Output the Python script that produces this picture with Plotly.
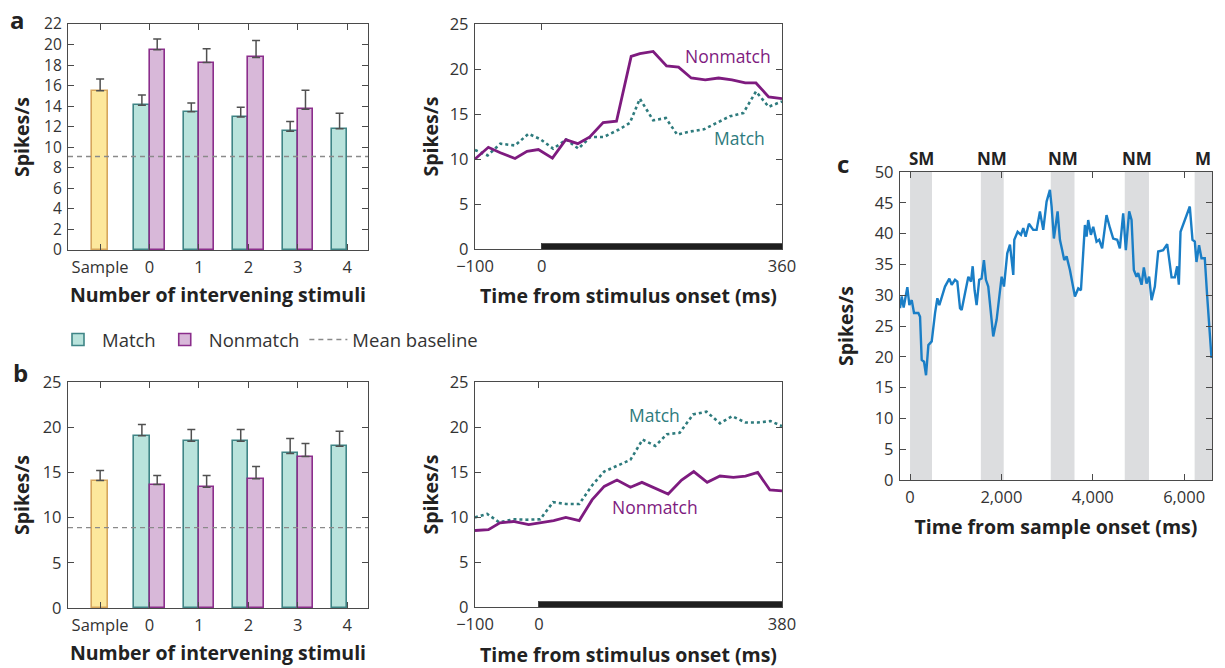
import plotly.graph_objects as go

# the page body has an 8px margin; positions below are in reference-page pixels
OX, OY = 8, 8
W, H = 1217, 660

# ---------------- data ----------------
bar_labels = ["Sample", "0", "1", "2", "3", "4"]
bar_pos = [0, 1, 2, 3, 4, 5]

# panel a (bars)
a_sample = [15.5]
a_sample_err = [1.15]
a_match = [14.1, 13.45, 12.95, 11.55, 11.8]
a_match_err = [1.0, 0.85, 0.95, 0.95, 1.5]
a_nonmatch = [19.5, 18.25, 18.75, 13.7]
a_nonmatch_err = [1.05, 1.35, 1.65, 1.85]
a_baseline = 9.1

# panel b (bars)
b_sample = [14.1]
b_sample_err = [1.1]
b_match = [19.05, 18.45, 18.45, 17.1, 17.9]
b_match_err = [1.25, 1.3, 1.3, 1.65, 1.65]
b_nonmatch = [13.65, 13.35, 14.3, 16.75]
b_nonmatch_err = [1.0, 1.3, 1.35, 1.45]
b_baseline = 8.9

# panel a (time course)
a_t_non = [-100, -80, -62, -40, -22, -5, 16, 36, 54, 72, 92, 112, 134, 147, 167, 187, 205, 224, 245, 265, 285, 305, 321, 340, 360]
a_r_non = [10.0, 11.3, 10.7, 10.05, 10.85, 11.05, 10.1, 12.15, 11.7, 12.45, 14.05, 14.2, 21.4, 21.7, 21.95, 20.35, 20.2, 19.0, 18.8, 19.0, 18.8, 18.45, 18.45, 16.9, 16.7]
a_t_match = [-100, -81, -62, -40, -20, -2, 17, 37, 55, 73, 93, 115, 132, 147, 167, 186, 203, 222, 243, 262, 282, 302, 321, 340, 360]
a_r_match = [11.0, 10.4, 11.7, 11.5, 12.8, 12.2, 11.15, 12.15, 11.15, 12.45, 12.45, 13.25, 14.0, 16.7, 14.3, 14.55, 12.7, 13.05, 13.3, 14.0, 14.75, 15.1, 17.5, 15.8, 16.4]

# panel b (time course)
b_t_non = [-100, -79, -61, -40, -16, 2, 23, 42, 63, 83, 102, 122, 143, 161, 182, 202, 223, 242, 263, 283, 304, 323, 342, 361, 380]
b_r_non = [8.5, 8.6, 9.35, 9.5, 9.15, 9.35, 9.6, 9.95, 9.6, 11.9, 13.4, 14.1, 13.3, 13.85, 13.2, 12.55, 14.1, 15.05, 13.85, 14.55, 14.4, 14.55, 14.95, 13.0, 12.9]
b_t_match = [-100, -81, -62, -40, -19, 2, 22, 42, 63, 83, 102, 122, 143, 162, 182, 200, 220, 241, 262, 283, 302, 323, 342, 362, 380]
b_r_match = [9.95, 10.35, 9.4, 9.75, 9.7, 9.75, 11.65, 11.45, 11.45, 13.5, 15.05, 15.7, 16.35, 18.6, 17.9, 19.2, 19.35, 21.4, 21.7, 20.4, 21.2, 20.5, 20.5, 20.65, 20.1]

# panel c (single trial)
c_time = [-219, -182, -140, -59, -15, 37, 87, 182, 219, 255, 306, 350, 401, 474, 547, 598, 641, 693, 765, 860,
          912, 984, 1035, 1094, 1130, 1203, 1276, 1334, 1371, 1413, 1457, 1514, 1566, 1617, 1661, 1712, 1821, 1895, 1968, 2005,
          2056, 2128, 2187, 2260, 2282, 2355, 2428, 2479, 2530, 2602, 2697, 2770, 2843, 2916, 2989, 3062, 3099, 3149, 3230, 3281,
          3331, 3375, 3427, 3500, 3609, 3682, 3741, 3828, 3865, 3900, 3959, 4010, 4083, 4140, 4205, 4301, 4373, 4447, 4535, 4593,
          4666, 4724, 4797, 4849, 4899, 4958, 4994, 5068, 5118, 5177, 5234, 5287, 5359, 5432, 5541, 5629, 5725, 5797, 5847, 5884,
          5921, 5993, 6037, 6124, 6183, 6234, 6270, 6327, 6380, 6452, 6503, 6599]
c_rate = [27.9, 29.8, 28.0, 31.3, 28.4, 29.2, 27.1, 27.1, 26.5, 19.5, 19.2, 17.0, 21.9, 22.5, 27.1, 29.5, 28.4, 29.8, 31.4, 32.7,
          31.7, 32.5, 32.2, 27.9, 27.6, 30.3, 33.0, 32.2, 34.7, 30.8, 28.4, 32.5, 32.7, 35.7, 32.5, 31.4, 23.3, 26.0, 30.3, 33.0,
          31.4, 36.8, 38.2, 33.3, 39.0, 40.3, 39.8, 40.9, 39.5, 41.6, 40.6, 40.6, 43.6, 40.6, 45.2, 47.1, 44.4, 39.2, 43.6, 39.0,
          37.3, 35.7, 36.3, 34.1, 29.8, 31.1, 30.8, 41.4, 39.5, 42.2, 39.8, 41.1, 38.7, 39.0, 37.6, 43.0, 41.0, 39.2, 39.0, 37.6,
          43.3, 37.3, 43.6, 42.2, 34.1, 33.0, 33.6, 31.7, 34.5, 31.9, 33.0, 29.2, 31.4, 37.1, 37.3, 38.3, 32.9, 32.9, 34.7, 31.7,
          40.3, 41.7, 42.5, 44.4, 39.0, 38.7, 35.4, 38.1, 36.0, 36.0, 30.0, 19.8]
c_band_start = [0, 1550, 3080, 4700, 6230]
c_band_end = [480, 2050, 3600, 5230, 6610]
c_band_labels = ["SM", "NM", "NM", "NM", "M"]

# ---------------- style ----------------
FONT = "Open Sans"
TXT = "#333333"
AX = "#4a4a4a"
MATCH_FILL, MATCH_LINE = "#b9e3dc", "#3f8586"
NON_FILL, NON_LINE = "#d8b8d9", "#8b2e8c"
SAMP_FILL, SAMP_LINE = "#fde89c", "#d6a65c"
LINE_NON = "#7e1b7f"
LINE_MATCH = "#2e7b7d"
C_BLUE = "#1a7ec6"
BAND = "#dcdddf"
BW = 0.31
bar_range = [-0.65, 5.42]

fig = go.Figure()


def add_bars(xa, ya, samp, samp_err, match, match_err, non, non_err, base, legend):
    eb = dict(color="#505050", thickness=1.5, width=4)
    fig.add_trace(go.Bar(x=bar_pos[:1], y=samp, width=BW, offset=-BW / 2, name="Sample",
                         marker=dict(color=SAMP_FILL, line=dict(color=SAMP_LINE, width=1.6)),
                         error_y=dict(type="data", array=samp_err, arrayminus=[0] * len(samp), symmetric=False, **eb),
                         xaxis=xa, yaxis=ya, showlegend=False))
    fig.add_trace(go.Bar(x=bar_pos[1:1 + len(match)], y=match, width=BW, offset=-BW, name="Match",
                         marker=dict(color=MATCH_FILL, line=dict(color=MATCH_LINE, width=1.6)),
                         error_y=dict(type="data", array=match_err, arrayminus=[0] * len(match), symmetric=False, **eb),
                         xaxis=xa, yaxis=ya, showlegend=legend, legendgroup="m"))
    fig.add_trace(go.Bar(x=bar_pos[1:1 + len(non)], y=non, width=BW, offset=0, name="Nonmatch",
                         marker=dict(color=NON_FILL, line=dict(color=NON_LINE, width=1.6)),
                         error_y=dict(type="data", array=non_err, arrayminus=[0] * len(non), symmetric=False, **eb),
                         xaxis=xa, yaxis=ya, showlegend=legend, legendgroup="n"))
    fig.add_trace(go.Scatter(x=bar_range, y=[base, base], mode="lines", name="Mean baseline",
                             line=dict(color="#8a8a8a", width=1.3, dash="5px,4px"),
                             xaxis=xa, yaxis=ya, showlegend=legend, hoverinfo="skip"))


add_bars("x", "y", a_sample, a_sample_err, a_match, a_match_err, a_nonmatch, a_nonmatch_err, a_baseline, True)
add_bars("x3", "y3", b_sample, b_sample_err, b_match, b_match_err, b_nonmatch, b_nonmatch_err, b_baseline, False)

# time courses
fig.add_trace(go.Scatter(x=a_t_match, y=a_r_match, mode="lines", line=dict(color=LINE_MATCH, width=2.6, dash="dot"),
                         xaxis="x2", yaxis="y2", showlegend=False))
fig.add_trace(go.Scatter(x=a_t_non, y=a_r_non, mode="lines", line=dict(color=LINE_NON, width=2.8),
                         xaxis="x2", yaxis="y2", showlegend=False))
fig.add_trace(go.Scatter(x=b_t_match, y=b_r_match, mode="lines", line=dict(color=LINE_MATCH, width=2.6, dash="dot"),
                         xaxis="x4", yaxis="y4", showlegend=False))
fig.add_trace(go.Scatter(x=b_t_non, y=b_r_non, mode="lines", line=dict(color=LINE_NON, width=2.8),
                         xaxis="x4", yaxis="y4", showlegend=False))
fig.add_trace(go.Scatter(x=c_time, y=c_rate, mode="lines", line=dict(color=C_BLUE, width=2.4),
                         xaxis="x5", yaxis="y5", showlegend=False))


def xd(l, r):
    return [(l - OX) / W, (r - OX) / W]


def yd(t, b):
    return [1 - (b - OY) / H, 1 - (t - OY) / H]


def px(x):
    return (x - OX) / W


def py(y):
    return 1 - (y - OY) / H


tickfont = dict(family=FONT, size=16.5, color=TXT)
titlefont = dict(family=FONT, size=19.5, color="#222222", weight="bold")
common = dict(showline=True, linecolor=AX, linewidth=1.3, mirror="ticks", ticks="inside", ticklen=6,
              tickcolor=AX, tickwidth=1.3, showgrid=False, zeroline=False, fixedrange=True,
              automargin=False, ticklabelstandoff=2)

fig.update_layout(
    width=W, height=H, autosize=False,
    margin=dict(l=0, r=0, t=0, b=0),
    paper_bgcolor="white", plot_bgcolor="white",
    barmode="overlay", bargap=0,
    font=dict(family=FONT, color=TXT),
    showlegend=True,
    legend=dict(orientation="h", x=px(54), y=py(340), xanchor="left", yanchor="middle",
                font=dict(family=FONT, size=18.5, color=TXT), itemwidth=38, bgcolor="rgba(0,0,0,0)",
                tracegroupgap=0),
    xaxis=dict(domain=xd(68, 368), range=bar_range, tickvals=bar_pos, ticktext=bar_labels, anchor="y", tickfont=tickfont,
               title=dict(text="Number of intervening stimuli", font=titlefont, standoff=11), **common),
    yaxis=dict(domain=yd(24, 250), range=[0, 22], dtick=2, anchor="x", tickfont=dict(tickfont, size=15.5),
               title=dict(text="Spikes/s", font=titlefont, standoff=9), **common),
    xaxis2=dict(domain=xd(475, 782), range=[-100, 360], tickvals=[-100, 0, 360], ticktext=["\u2212100", "0", "360"],
                anchor="y2", tickfont=tickfont,
                title=dict(text="Time from stimulus onset (ms)", font=titlefont, standoff=13), **common),
    yaxis2=dict(domain=yd(24, 249), range=[0, 25], dtick=5, anchor="x2", tickfont=tickfont,
                title=dict(text="Spikes/s", font=titlefont, standoff=5), **common),
    xaxis3=dict(domain=xd(68, 368), range=bar_range, tickvals=bar_pos, ticktext=bar_labels, anchor="y3", tickfont=tickfont,
                title=dict(text="Number of intervening stimuli", font=titlefont, standoff=11), **common),
    yaxis3=dict(domain=yd(382, 608), range=[0, 25], dtick=5, anchor="x3", tickfont=tickfont,
                title=dict(text="Spikes/s", font=titlefont, standoff=8), **common),
    xaxis4=dict(domain=xd(475, 782), range=[-100, 380], tickvals=[-100, 0, 380], ticktext=["\u2212100", "0", "380"],
                anchor="y4", tickfont=tickfont,
                title=dict(text="Time from stimulus onset (ms)", font=titlefont, standoff=15), **common),
    yaxis4=dict(domain=yd(382, 607), range=[0, 25], dtick=5, anchor="x4", tickfont=tickfont,
                title=dict(text="Spikes/s", font=titlefont, standoff=5), **common),
    xaxis5=dict(domain=xd(900, 1212), range=[-220, 6610], tickvals=[0, 2000, 4000, 6000],
                ticktext=["0", "2,000", "4,000", "6,000"], anchor="y5", tickfont=tickfont,
                title=dict(text="Time from sample onset (ms)", font=titlefont, standoff=13), **common),
    yaxis5=dict(domain=yd(172, 480), range=[0, 50], dtick=5, anchor="x5", tickfont=tickfont,
                title=dict(text="Spikes/s", font=titlefont, standoff=15), **common),
)

shapes = []
# stimulus bars
shapes.append(dict(type="rect", xref="x2", yref="y2 domain", x0=0, x1=360, y0=0, y1=0.026,
                   fillcolor="#1e1e1e", line=dict(width=0), layer="above"))
shapes.append(dict(type="rect", xref="x4", yref="y4 domain", x0=0, x1=380, y0=0, y1=0.026,
                   fillcolor="#1e1e1e", line=dict(width=0), layer="above"))
# epochs in panel c
for s, e in zip(c_band_start, c_band_end):
    shapes.append(dict(type="rect", xref="x5", yref="y5 domain", x0=s, x1=e, y0=0, y1=1,
                       fillcolor=BAND, line=dict(width=0), layer="below"))
fig.update_layout(shapes=shapes)

ann = []
lab = dict(family=FONT, size=17.5)
ann.append(dict(x=279, y=21.4, xref="x2", yref="y2", text="Nonmatch", showarrow=False, font=dict(color=LINE_NON, **lab)))
ann.append(dict(x=297, y=12.3, xref="x2", yref="y2", text="Match", showarrow=False, font=dict(color=LINE_MATCH, **lab)))
ann.append(dict(x=181, y=21.3, xref="x4", yref="y4", text="Match", showarrow=False, font=dict(color=LINE_MATCH, **lab)))
ann.append(dict(x=181, y=11.1, xref="x4", yref="y4", text="Nonmatch", showarrow=False, font=dict(color=LINE_NON, **lab)))
for s, e, t in zip(c_band_start, c_band_end, c_band_labels):
    ann.append(dict(x=(s + e) / 2, y=1, xref="x5", yref="y5 domain", yshift=14, yanchor="middle",
                    text="<b>%s</b>" % t, showarrow=False, font=dict(family=FONT, size=17, color="#222222")))
panel = dict(family=FONT, size=24, color="#222222")
ann.append(dict(x=px(17), y=py(19), xref="paper", yref="paper", text="<b>a</b>", showarrow=False,
                xanchor="center", yanchor="middle", font=panel))
ann.append(dict(x=px(20), y=py(372), xref="paper", yref="paper", text="<b>b</b>", showarrow=False,
                xanchor="center", yanchor="middle", font=panel))
ann.append(dict(x=px(843), y=py(164), xref="paper", yref="paper", text="<b>c</b>", showarrow=False,
                xanchor="center", yanchor="middle", font=panel))
fig.update_layout(annotations=ann)

fig.write_html("out.html")
